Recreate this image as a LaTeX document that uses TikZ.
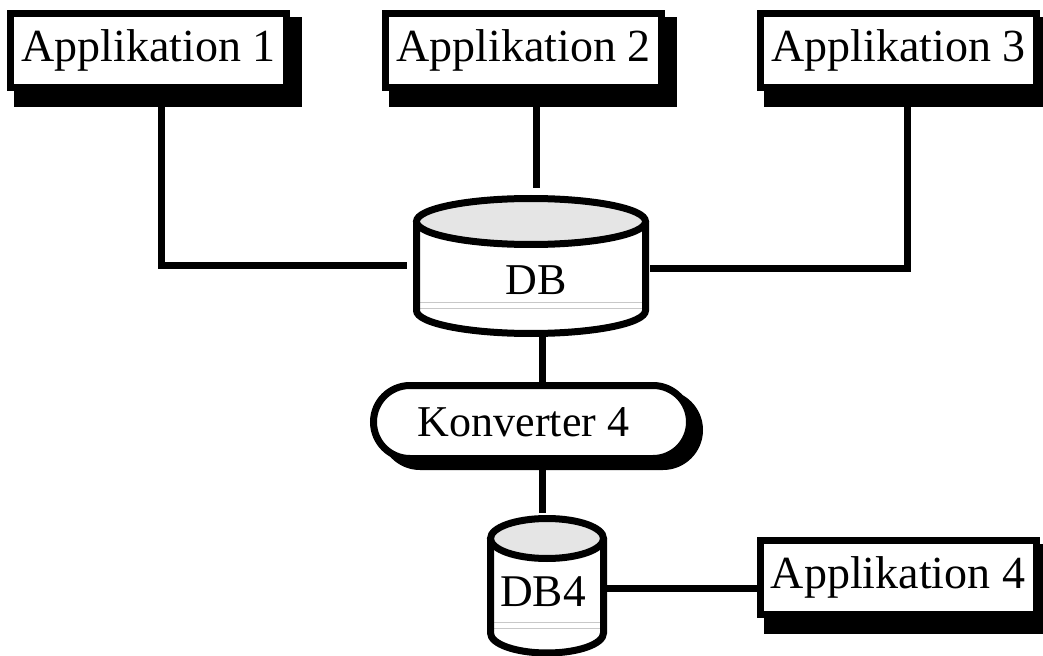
\documentclass[tikz,border=0pt]{standalone}
\usepackage{fontspec}
\setmainfont{Liberation Serif}
\usetikzlibrary{shapes.misc,backgrounds}
\definecolor{topgray}{HTML}{E5E5E5}
\definecolor{thingray}{HTML}{C8C8C8}
\begin{document}
\begin{tikzpicture}[x=0.75pt,y=0.75pt,
  thick line/.style={line width=5.25pt},
  appbox/.style={draw, line width=5.25pt, fill=white, minimum width=207pt,
    minimum height=55.5pt, inner sep=0pt, font=\fontsize{34.5}{40}\selectfont},
  shadowfill/.style={fill=black},
  conn/.style={line width=5.25pt},
  pill/.style={rounded rectangle, draw, line width=5.25pt, minimum width=237pt,
    minimum height=54.75pt, inner sep=0pt, font=\fontsize{33}{38}\selectfont},
  dbtext/.style={inner sep=0pt},
  sepline/.style={draw=thingray, line width=0.75pt}]
\useasboundingbox (0,0) rectangle (1043,-656);

% application boxes
\node[appbox] (a1) at (148.5,-50.5) {Applikation 1};
\node[appbox] (a2) at (523.5,-50.5) {Applikation 2};
\node[appbox] (a3) at (898.5,-50.5) {Applikation 3};
\node[appbox] (a4) at (898,-577) {Applikation 4};
\begin{scope}[on background layer]
  \foreach \n in {a1,a2,a3,a4}
    \fill[shadowfill] ([shift={(7,-7)}]\n.north west) rectangle ([shift={(12,-16)}]\n.south east);
\end{scope}

% central database
\fill[white] (416.5,-221.5) -- (416.5,-310.5)
  arc[start angle=180,end angle=360,x radius=114.5,y radius=23] -- (645.5,-221.5) -- cycle;
\draw[sepline] (420,-302) -- (642,-302);
\draw[sepline] (420,-308) -- (642,-308);
\draw[thick line] (416.5,-221.5) -- (416.5,-310.5)
  arc[start angle=180,end angle=360,x radius=114.5,y radius=23] -- (645.5,-221.5);
\draw[thick line, fill=topgray] (531,-221.5) ellipse [x radius=114.5, y radius=23];
\node[dbtext, font=\fontsize{33}{38}\selectfont] (db) at (536,-280) {DB};

% converter
\node[pill, fill=black] (ks) at (541.5,-430) {};
\node[pill, fill=white] (k) at (531.5,-422) {Konverter 4\hspace*{12pt}};

% DB4
\fill[white] (490.5,-538.5) -- (490.5,-633)
  arc[start angle=180,end angle=360,x radius=56.5,y radius=20] -- (603.5,-538.5) -- cycle;
\draw[sepline] (494,-622) -- (600,-622);
\draw[sepline] (494,-628) -- (600,-628);
\draw[thick line] (490.5,-538.5) -- (490.5,-633)
  arc[start angle=180,end angle=360,x radius=56.5,y radius=20] -- (603.5,-538.5);
\draw[thick line, fill=topgray] (547,-538.5) ellipse [x radius=56.5, y radius=20];
\node[dbtext, font=\fontsize{34}{38}\selectfont] (db4) at (543,-592) {DB4};

% connection points
\coordinate (c1) at (161,-107);
\coordinate (dbL) at (407,-266);
\coordinate (c2) at (536,-107);
\coordinate (dbT) at (536,-188);
\coordinate (c3) at (907,-107);
\coordinate (dbR) at (650,-269);
\coordinate (dbB) at (542,-337);
\coordinate (kT) at (542,-382);
\coordinate (kB) at (542,-468);
\coordinate (db4T) at (542,-513);
\coordinate (db4R) at (607,-588);
\coordinate (a4L) at (757,-588);

\draw[conn] (c1) |- (dbL);
\draw[conn] (c2) -- (dbT);
\draw[conn] (c3) |- (dbR);
\draw[conn] (dbB) -- (kT);
\draw[conn] (kB) -- (db4T);
\draw[conn] (db4R) -- (a4L);
\end{tikzpicture}
\end{document}
